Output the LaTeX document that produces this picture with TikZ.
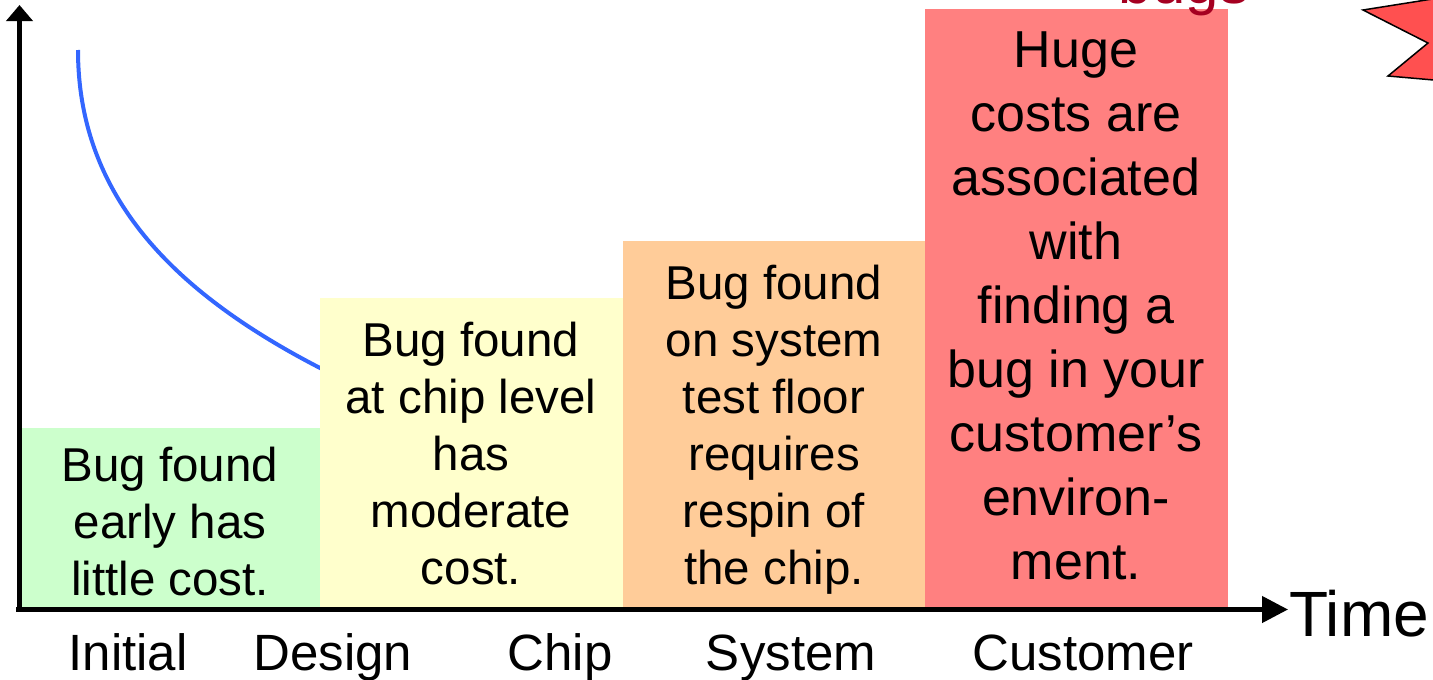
\documentclass[tikz,border=0pt]{standalone}
\usepackage{fontspec}
\setmainfont{Liberation Sans}
\usetikzlibrary{arrows.meta}
\definecolor{boxgreen}{HTML}{CCFFCC}
\definecolor{boxyellow}{HTML}{FFFFCC}
\definecolor{boxorange}{HTML}{FFCC99}
\definecolor{boxred}{HTML}{FF8080}
\definecolor{curveblue}{HTML}{3366FF}
\definecolor{bugred}{HTML}{A50021}
\definecolor{starred}{HTML}{FF5050}
\begin{document}
\begin{tikzpicture}[x=1pt,y=-1pt,
  boxtext/.style={align=center, inner sep=0pt, outer sep=0pt, font=\fontsize{47.5}{57}\selectfont, anchor=base},
  bigtext/.style={align=center, inner sep=0pt, outer sep=0pt, font=\fontsize{52}{64}\selectfont, anchor=base},
  axislabel/.style={inner sep=0pt, outer sep=0pt, font=\fontsize{51}{60}\selectfont, anchor=base},
  axisline/.style={line width=4.5pt},
]
\useasboundingbox (0,0) rectangle (1433,680);
\clip (0,0) rectangle (1433,680);

% blue curve
\coordinate (cs) at (78,50);
\coordinate (ce) at (322,369);
\draw[curveblue, line width=4pt] (cs) .. controls (78,195) and (172,292) .. (ce);

% bars
\fill[boxgreen]  (22,428)  rectangle (320,609);
\fill[boxyellow] (320,298) rectangle (623,609);
\fill[boxorange] (623,241) rectangle (925,609);
\fill[boxred]    (925,9)   rectangle (1228,609);

% partially visible title and star
\node[inner sep=0pt, anchor=base, text=bugred, font=\fontsize{60}{70}\selectfont] (bugs) at (1184,3) {bugs};
\draw[fill=starred, line width=1.5pt, line join=miter] (1445,-3) -- (1363,10) -- (1428,43) -- (1388,76) -- (1445,81) -- cycle;

% texts in bars (anchored at the baseline of the last line)
\node[boxtext] (tgreen)  at (170,595) {Bug found\\early has\\little cost.};
\node[boxtext] (tyellow) at (471,584) {Bug found\\at chip level\\has\\moderate\\cost.};
\node[boxtext] (torange) at (774,584) {Bug found\\on system\\test floor\\requires\\respin of\\the chip.};
\node[bigtext] (tred)    at (1076,579) {Huge\\costs are\\associated\\with\\finding a\\bug in your\\customer’s\\environ-\\ment.};

% axes
\coordinate (yo) at (19.5,611);
\coordinate (ytip) at (19.5,5);
\coordinate (xo) at (16,609.5);
\coordinate (xtip) at (1288,609.5);
\draw[axisline, -{Triangle[length=16pt,width=26pt]}] (yo) -- (ytip);
\draw[axisline, -{Triangle[length=26pt,width=26pt]}] (xo) -- (xtip);

% axis labels
\node[inner sep=0pt, anchor=base west, font=\fontsize{64}{70}\selectfont] (time) at (1289,636) {Time};
\node[axislabel] (linitial)  at (128,670) {Initial};
\node[axislabel] (ldesign)   at (333,670) {Design};
\node[axislabel] (lchip)     at (560,670) {Chip};
\node[axislabel] (lsystem)   at (791,670) {System};
\node[axislabel] (lcustomer) at (1083,670) {Customer};
\end{tikzpicture}
\end{document}
